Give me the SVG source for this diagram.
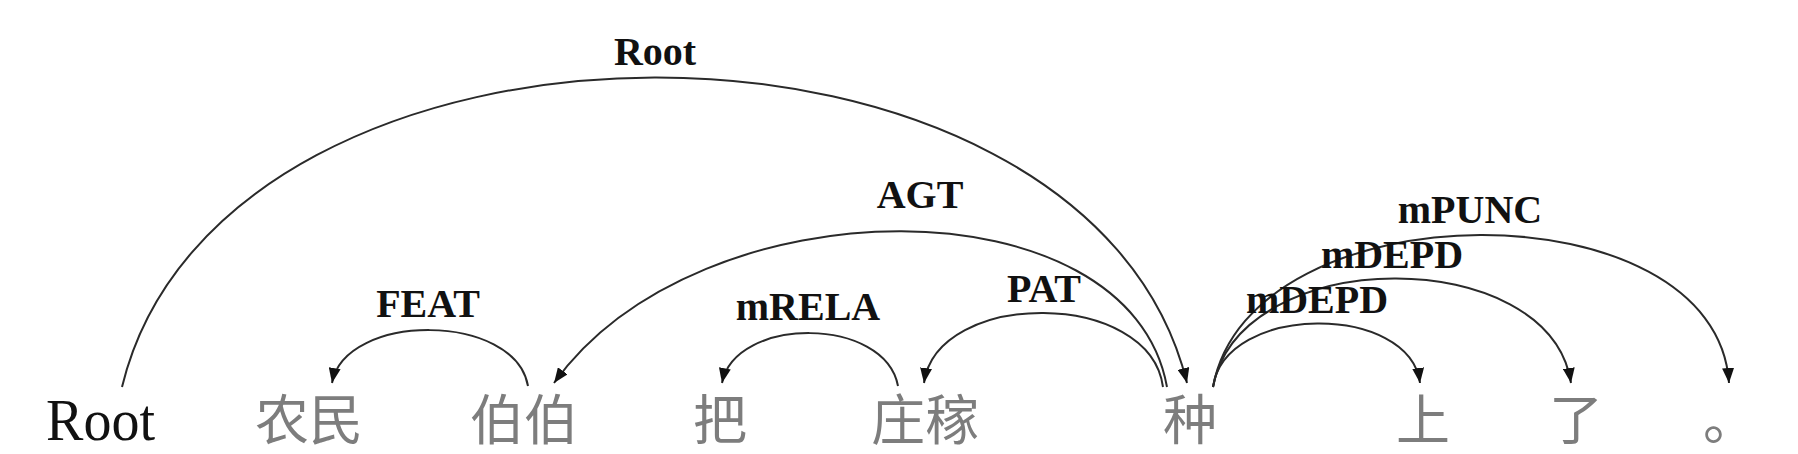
<svg xmlns="http://www.w3.org/2000/svg" width="1798" height="454" viewBox="0 0 1798 454">
  <style>
    .arc { fill: none; stroke: #2a2a2a; stroke-width: 2; }
    .lbl { font-family: "Liberation Serif", "Times New Roman", serif; font-weight: bold; font-size: 40px; fill: #111; text-anchor: middle; }
    .root { font-family: "Liberation Serif", "Times New Roman", serif; font-size: 60px; fill: #111; }
    .zh { font-family: "Noto Sans CJK SC", sans-serif; font-size: 54px; fill: #7d7d7d; }
  </style>
  <defs>
    <marker id="arr" markerUnits="userSpaceOnUse" markerWidth="15" markerHeight="12" refX="15" refY="6" orient="auto">
      <path d="M0,0 L15,6 L0,12 z" fill="#111"/>
    </marker>
  </defs>
  <rect width="1798" height="454" fill="#fff"/>

  <g id="connectors">
    <path id="e-root" class="arc" marker-end="url(#arr)" d="M122,387 C222,-25 1087,-25 1187,383"/>
    <path id="e-agt" class="arc" marker-end="url(#arr)" d="M1167,387 C1130,180 700,180 554,383"/>
    <path id="e-feat" class="arc" marker-end="url(#arr)" d="M528,386 C515,312 345,312 332,383"/>
    <path id="e-mrela" class="arc" marker-end="url(#arr)" d="M898,386 C885,316 735,316 722,383"/>
    <path id="e-pat" class="arc" marker-end="url(#arr)" d="M1163,387 C1150,289 937,289 924,383"/>
    <path id="e-mdepd1" class="arc" marker-end="url(#arr)" d="M1213,387 C1225,303 1410,303 1420,383"/>
    <path id="e-mdepd2" class="arc" marker-end="url(#arr)" d="M1213,387 C1240,243 1550,243 1571,383"/>
    <path id="e-mpunc" class="arc" marker-end="url(#arr)" d="M1213,387 C1250,185 1717,185 1729,383"/>
  </g>

  <g id="labels">
    <text class="lbl" x="655" y="65">Root</text>
    <text class="lbl" x="920" y="208">AGT</text>
    <text class="lbl" x="428" y="317">FEAT</text>
    <text class="lbl" x="808" y="320">mRELA</text>
    <text class="lbl" x="1044" y="302">PAT</text>
    <text class="lbl" x="1317" y="313">mDEPD</text>
    <text class="lbl" x="1392" y="268">mDEPD</text>
    <text class="lbl" x="1470" y="223">mPUNC</text>
  </g>

  <g id="n-root"><text class="root" x="46" y="440" textLength="109" lengthAdjust="spacingAndGlyphs">Root</text></g>
  <g id="n-nongmin"><text class="zh" x="255" y="440">农民</text></g>
  <g id="n-bobo"><text class="zh" x="470" y="440">伯伯</text></g>
  <g id="n-ba"><text class="zh" x="693" y="440">把</text></g>
  <g id="n-zhuangjia"><text class="zh" x="871" y="440">庄稼</text></g>
  <g id="n-zhong"><text class="zh" x="1163" y="440">种</text></g>
  <g id="n-shang"><text class="zh" x="1396" y="440">上</text></g>
  <g id="n-le"><text class="zh" x="1549" y="440">了</text></g>
  <g id="n-period"><text class="zh" x="1703" y="440">。</text></g>
</svg>
